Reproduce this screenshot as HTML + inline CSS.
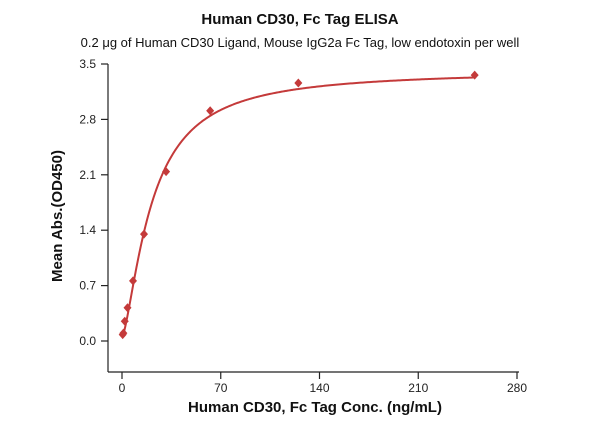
<!DOCTYPE html>
<html><head><meta charset="utf-8"><style>
body{margin:0;background:#fff;}
svg{display:block;font-family:"Liberation Sans",Arial,sans-serif;}
</style></head><body>
<svg id="chart" width="600" height="421">
<text x="300" y="24" text-anchor="middle" font-size="15" font-weight="bold" fill="#111">Human CD30, Fc Tag ELISA</text>
<text x="300" y="47" text-anchor="middle" font-size="13" fill="#111">0.2 μg of Human CD30 Ligand, Mouse IgG2a Fc Tag, low endotoxin per well</text>
<g id="axes" stroke="#222" stroke-width="1.2" fill="none"></g>
<g id="labels" font-size="12" fill="#222"></g>
<path id="curve" fill="none" stroke="#c43a3a" stroke-width="2"></path>
<g id="points" fill="#c43a3a"></g>
<text x="315" y="412" text-anchor="middle" font-size="15" font-weight="bold" fill="#111">Human CD30, Fc Tag Conc. (ng/mL)</text>
<text transform="translate(62,216) rotate(-90)" text-anchor="middle" font-size="15" font-weight="bold" fill="#111">Mean Abs.(OD450)</text>
</svg>
<script>
const concs = [0.49, 0.98, 1.95, 3.9, 7.8, 15.6, 31.25, 62.5, 125, 250];
const absVals = [0.08, 0.10, 0.25, 0.42, 0.76, 1.35, 2.14, 2.91, 3.26, 3.36];
const xTicks = [0, 70, 140, 210, 280];
const yTicks = [0.0, 0.7, 1.4, 2.1, 2.8, 3.5];
const fitBottom = 0.05, fitTop = 3.42, fitEC50 = 21, fitHill = 1.45;

const NS = "http://www.w3.org/2000/svg";
const xS = v => 122 + v * (395 / 280);
const yS = v => 341 - v * (277 / 3.5);
function mk(tag, attrs, parent){const e=document.createElementNS(NS,tag);for(const k in attrs)e.setAttribute(k,attrs[k]);parent.appendChild(e);return e;}
const axes=document.getElementById('axes'), labels=document.getElementById('labels');
let a=mk('line',{x1:108,y1:64,x2:108,y2:372},axes);


a=mk('line',{x1:108,y1:372,x2:519,y2:372},axes);


yTicks.forEach(t=>{
  const y=yS(t);
  const l=mk('line',{x1:101,y1:y,x2:108,y2:y},axes);
  
  
  const tx=mk('text',{x:96,y:y+4,'text-anchor':'end'},labels);tx.textContent=t.toFixed(1);
  
  
});
xTicks.forEach(t=>{
  const x=xS(t);
  const l=mk('line',{x1:x,y1:372,x2:x,y2:379},axes);
  
  
  const tx=mk('text',{x:x,y:392,'text-anchor':'middle'},labels);tx.textContent=t;
  
  
});
const f=c=>fitBottom+(fitTop-fitBottom)*Math.pow(c/fitEC50,fitHill)/(1+Math.pow(c/fitEC50,fitHill));
let d='';
for(let i=0;i<=400;i++){const c=0.3+(250-0.3)*Math.pow(i/400,2);d+=(i?'L':'M')+xS(c).toFixed(2)+','+yS(f(c)).toFixed(2);}
document.getElementById('curve').setAttribute('d',d);
const pts=document.getElementById('points');
concs.forEach((c,i)=>{
  const x=xS(c),y=yS(absVals[i]);
  const p=mk('polygon',{points:`${x},${y-4.5} ${x+4},${y} ${x},${y+4.5} ${x-4},${y}`},pts);
  
  
});
</script>
</body></html>
